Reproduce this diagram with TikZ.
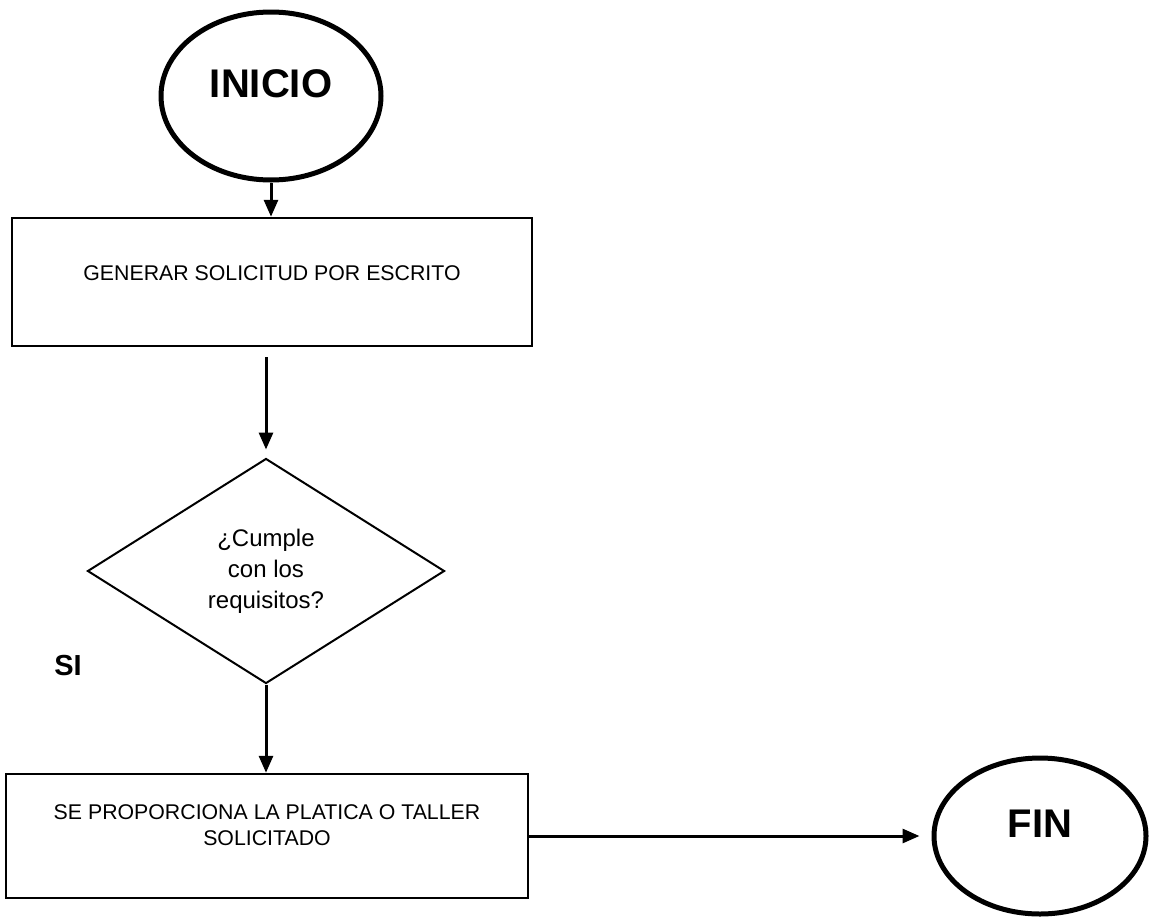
\documentclass[tikz,border=0pt]{standalone}
\usepackage{fontspec}
\setmainfont{Liberation Sans}
\usetikzlibrary{shapes.geometric,arrows.meta}

\begin{document}
\begin{tikzpicture}[x=1pt,y=-1pt]
\tikzstyle{every node}+=[inner sep=0pt]
\tikzstyle{term}=[draw, ellipse, line width=5pt, text depth=24pt, font=\fontsize{40}{48}\selectfont\bfseries]
\tikzstyle{proc}=[draw, rectangle, line width=2.5pt, align=center, font=\fontsize{21.3}{26}\selectfont]
\tikzstyle{cond}=[draw, diamond, line width=2pt, align=center, font=\fontsize{24}{31}\selectfont]
\tikzstyle{flow}=[line width=3pt, -{Triangle[length=17pt,width=14pt]}]
\useasboundingbox (0,0) rectangle (1150,916);
\node [term, minimum width=220pt, minimum height=168pt] (inicio) at (271,96) {INICIO};
\node [proc, minimum width=520pt, minimum height=128pt, text depth=18pt] (gen) at (272,282) {GENERAR SOLICITUD POR ESCRITO};
\node [cond, minimum width=357pt, minimum height=225pt] (cumple) at (266,571) {¿Cumple\\con los\\requisitos?};
\node [font=\fontsize{29}{34}\selectfont\bfseries] (si) at (68,666) {SI};
\node [proc, minimum width=522pt, minimum height=124pt, text depth=22pt] (taller) at (267,836) {SE PROPORCIONA LA PLATICA O TALLER\\SOLICITADO};
\node [term, minimum width=212pt, minimum height=156pt] (fin) at (1040,836) {FIN};
\draw [flow] (inicio.south) -- (inicio.south |- gen.north);
\draw [flow, shorten <=10pt, shorten >=8pt] (cumple.north |- gen.south) -- (cumple.north);
\draw [flow] (cumple.south) -- (cumple.south |- taller.north);
\draw [flow, shorten >=12pt] (taller.east) -- (fin.west);
\end{tikzpicture}
\end{document}
